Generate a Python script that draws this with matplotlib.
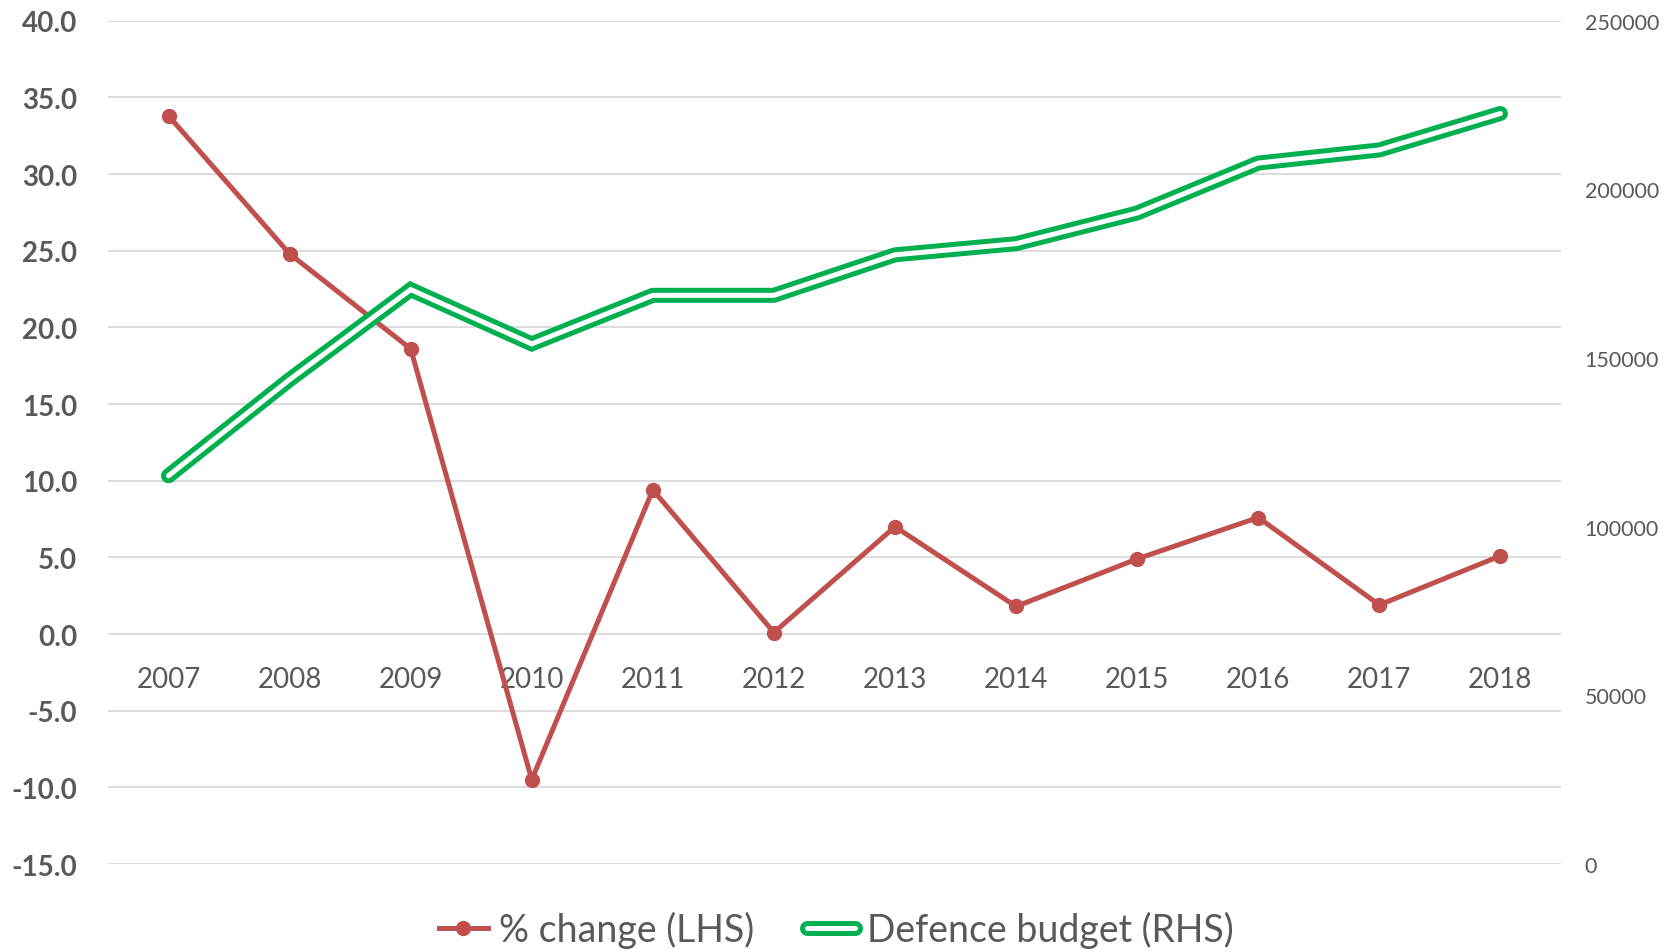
import matplotlib
matplotlib.use("Agg")
import matplotlib.pyplot as plt
from matplotlib.lines import Line2D
from matplotlib.legend_handler import HandlerTuple

#data
years = ['2007', '2008', '2009', '2010', '2011', '2012', '2013', '2014', '2015', '2016', '2017', '2018']
pct_change = [33.8, 24.8, 18.6, -9.5, 9.4, 0.1, 7.0, 1.8, 4.9, 7.6, 1.9, 5.1]
budget = [115100, 143600, 170300, 154200, 168600, 168600, 180600, 183900, 193000, 207800, 211700, 222500]

left_ticks = [-15, -10, -5, 0, 5, 10, 15, 20, 25, 30, 35, 40]
right_ticks = [0, 50000, 100000, 150000, 200000, 250000]

RED = '#c0504d'
GREEN = '#00b050'
GREY = '#595959'


def main():
	plt.rcParams['font.family'] = ['Lato', 'DejaVu Sans']

	fig = plt.figure(figsize=(16.79, 9.53), dpi=100)
	ax = fig.add_axes([0.0643, 0.0923, 0.9297 - 0.0643, 0.9772 - 0.0923])
	ax2 = ax.twinx()

	x = list(range(len(years)))

	#x axis crosses at 0 on the left scale (set before labels, it resets ticks)
	ax.spines['bottom'].set_position(('data', 0))

	#% change on the left axis
	ax.plot(x, pct_change, color=RED, lw=3.6, marker='o', markersize=10, zorder=3)
	ax.set_ylim(-15, 40)
	ax.set_yticks(left_ticks)
	ax.set_yticklabels(['{:.1f}'.format(t) for t in left_ticks], fontsize=20, fontweight='bold', color=GREY)
	ax.set_xlim(-0.5, len(years) - 0.5)
	ax.set_xticks(x)
	ax.set_xticklabels(years)
	ax.tick_params(axis='x', length=0, pad=23, labelsize=20, labelcolor=GREY)
	ax.tick_params(axis='y', length=0, pad=22)
	ax.set_axisbelow(True)
	ax.grid(axis='y', color='#d9d9d9', lw=1.3)
	ax.grid(axis='x', visible=False)

	#defence budget on the right axis, drawn as a double line
	ax2.plot(x, budget, color=GREEN, lw=10.8, solid_capstyle='round', solid_joinstyle='miter')
	ax2.plot(x, budget, color='white', lw=3.6, solid_capstyle='round', solid_joinstyle='miter')
	ax2.set_ylim(0, 250000)
	ax2.set_yticks(right_ticks)
	ax2.set_yticklabels([str(t) for t in right_ticks], fontsize=15.5, color=GREY)
	ax2.tick_params(axis='y', length=0, pad=17)

	for a in (ax, ax2):
		for s in a.spines.values():
			s.set_visible(False)

	red_h = Line2D([], [], color=RED, lw=3.6, marker='o', markersize=10)
	green_h = (Line2D([], [], color=GREEN, lw=10.8, solid_capstyle='round'),
		Line2D([], [], color='white', lw=3.6, solid_capstyle='round'))
	fig.legend([red_h, green_h], ['% change (LHS)', 'Defence budget (RHS)'],
		handler_map={tuple: HandlerTuple(ndivide=1, pad=0)},
		loc='center', bbox_to_anchor=(0.498, 0.024), ncol=2, frameon=False,
		fontsize=27, handlelength=1.3, handletextpad=0.3, columnspacing=1.4,
		labelcolor=GREY, borderpad=0)

	fig.savefig('out.png', dpi=100)


if __name__ == '__main__':
	main()
